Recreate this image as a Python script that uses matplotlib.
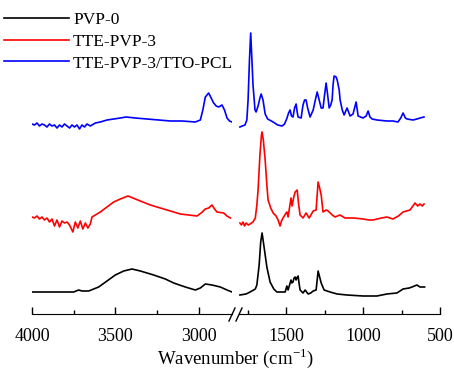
import matplotlib
matplotlib.use("Agg")
import matplotlib.pyplot as plt
from matplotlib.lines import Line2D
from matplotlib.ticker import FixedLocator

plt.rcParams['font.family'] = ['Liberation Serif', 'DejaVu Serif']
plt.rcParams['mathtext.fontset'] = 'custom'
plt.rcParams['mathtext.rm'] = 'Liberation Serif'

labels = ["PVP-0", "TTE-PVP-3", "TTE-PVP-3/TTO-PCL"]
colors = ["black", "red", "blue"]

# ---- PVP-0 (black) ----
k_wn_hi = [4000, 3900, 3800, 3750, 3720, 3700, 3660, 3600, 3550, 3500, 3450, 3400, 3350,
           3310, 3270, 3200, 3150, 3080, 3020, 2990, 2960, 2920, 2870, 2830, 2800]
k_I_hi = [28, 28, 28, 28, 30, 29, 29, 33, 39, 45, 49, 51, 49,
          47, 45, 41, 37, 33, 30, 32, 36, 35, 33, 30, 28]
k_wn_lo = [1800, 1760, 1734, 1700, 1690, 1675, 1665, 1656, 1645, 1625, 1604, 1580, 1560,
           1506, 1495, 1487, 1468, 1462, 1455, 1448, 1441, 1435, 1430, 1422, 1415, 1409,
           1390, 1376, 1357, 1340, 1324, 1305, 1298, 1292, 1282, 1272, 1253, 1214, 1168,
           1104, 1000, 910, 845, 780, 740, 700, 682, 650, 630, 600]
k_I_lo = [25, 26, 28, 31, 35, 55, 78, 87, 75, 53, 38, 31, 28,
          28, 34, 30, 40, 37, 38, 42, 43, 40, 42, 44, 36, 30,
          27, 30, 26, 27, 29, 30, 40, 49, 43, 37, 30, 28, 26,
          25, 24, 24, 26, 27, 31, 32, 33, 35, 33, 33]

# ---- TTE-PVP-3 (red) ----
r_wn_hi = [4000, 3985, 3970, 3955, 3940, 3925, 3910, 3895, 3880, 3865, 3850, 3835, 3820,
           3805, 3790, 3775, 3755, 3740, 3725, 3710, 3695, 3680, 3665, 3650, 3640, 3590,
           3550, 3510, 3470, 3424, 3380, 3335, 3290, 3230, 3170, 3110, 3060, 3010, 2985,
           2960, 2940, 2920, 2905, 2890, 2850, 2830, 2810]
r_I_hi = [103, 102, 104, 101, 103, 100, 102, 98, 101, 94, 100, 93, 99,
          97, 98, 95, 88, 98, 92, 99, 91, 97, 92, 96, 103, 108,
          113, 118, 121, 124, 121, 118, 115, 112, 109, 106, 105, 104, 107,
          111, 112, 115, 111, 108, 107, 104, 102]
r_wn_lo = [1800, 1790, 1780, 1770, 1760, 1745, 1734, 1715, 1700, 1690, 1682, 1670, 1660,
           1656, 1648, 1636, 1625, 1617, 1600, 1584, 1565, 1552, 1539, 1530, 1520, 1500,
           1494, 1487, 1475, 1468, 1461, 1450, 1441, 1428, 1418, 1409, 1390, 1370, 1350,
           1335, 1324, 1305, 1298, 1292, 1282, 1272, 1260, 1240, 1227, 1200, 1182, 1150,
           1117, 1060, 1000, 960, 935, 880, 845, 806, 770, 740, 695, 662, 645, 630, 615, 604]
r_I_lo = [97, 95, 98, 94, 97, 95, 96, 98, 102, 115, 130, 165, 185,
          188, 180, 160, 135, 120, 112, 107, 104, 100, 94, 99, 102, 107,
          108, 103, 115, 122, 114, 123, 128, 130, 115, 105, 102, 107, 102,
          106, 109, 110, 125, 138, 132, 125, 108, 110, 109, 105, 103, 105,
          102, 102, 101, 100, 100, 102, 103, 101, 104, 108, 110, 117, 114, 116, 114, 116]

# ---- TTE-PVP-3/TTO-PCL (blue) ----
b_wn_hi = [4000, 3985, 3970, 3955, 3940, 3925, 3910, 3895, 3880, 3865, 3850, 3835, 3820,
           3805, 3790, 3775, 3760, 3745, 3730, 3715, 3700, 3685, 3670, 3650, 3620, 3590,
           3550, 3510, 3470, 3435, 3380, 3310, 3240, 3170, 3100, 3020, 2990, 2975, 2960,
           2940, 2925, 2910, 2895, 2880, 2860, 2845, 2830, 2815, 2800]
b_I_hi = [196, 195, 197, 194, 196, 195, 193, 196, 194, 195, 192, 195, 193,
          196, 194, 192, 195, 193, 195, 191, 195, 193, 196, 194, 197, 198,
          200, 201, 202, 203, 202, 201, 200, 199, 199, 198, 200, 210, 223,
          227, 222, 217, 214, 213, 215, 210, 202, 199, 198]
b_wn_lo = [1800, 1785, 1767, 1755, 1747, 1738, 1730, 1722, 1715, 1702, 1695, 1682, 1670,
           1662, 1650, 1636, 1620, 1584, 1555, 1526, 1510, 1494, 1484, 1474, 1465, 1455,
           1445, 1435, 1428, 1422, 1402, 1395, 1390, 1380, 1370, 1360, 1344, 1324, 1310,
           1298, 1285, 1272, 1260, 1250, 1240, 1230, 1220, 1210, 1201, 1195, 1188, 1175,
           1168, 1155, 1149, 1135, 1123, 1104, 1084, 1065, 1045, 1032, 1000, 980, 967,
           955, 941, 910, 845, 806, 773, 755, 740, 725, 714, 675, 650, 630, 604]
b_I_lo = [193, 194, 195, 200, 220, 260, 287, 260, 235, 210, 208, 214, 222,
          226, 220, 206, 201, 198, 195, 194, 196, 202, 207, 210, 204, 203,
          212, 216, 208, 203, 202, 210, 215, 220, 220, 212, 203, 210, 220,
          228, 220, 212, 212, 225, 237, 225, 212, 215, 220, 235, 244, 243,
          240, 230, 220, 210, 205, 212, 204, 206, 218, 204, 202, 204, 209,
          203, 201, 200, 199, 199, 198, 202, 207, 202, 201, 200, 201, 202, 203]

hi_data = [(k_wn_hi, k_I_hi), (r_wn_hi, r_I_hi), (b_wn_hi, b_I_hi)]
lo_data = [(k_wn_lo, k_I_lo), (r_wn_lo, r_I_lo), (b_wn_lo, b_I_lo)]

W, H = 454, 371
fig = plt.figure(figsize=(W / 100, H / 100), dpi=100)

bottom = (H - 314) / H
top = (H - 20) / H
axL = fig.add_axes([32 / W, bottom, (232 - 32) / W, top - bottom])
axR = fig.add_axes([239 / W, bottom, (440 - 239) / W, top - bottom])

for ax in (axL, axR):
    for s in ("top", "right", "left"):
        ax.spines[s].set_visible(False)
    ax.set_ylim(6, 300)
    ax.set_yticks([])
    ax.patch.set_alpha(0)
    ax.tick_params(axis='x', which='major', direction='in', length=5, width=1,
                   labelsize=13, pad=10)
    ax.tick_params(axis='x', which='minor', direction='in', length=3, width=1)

lines = []
for (x, y), c, lab in zip(hi_data, colors, labels):
    ln, = axL.plot(x, y, color=c, lw=1.2, label=lab)
    lines.append(ln)
for (x, y), c in zip(lo_data, colors):
    axR.plot(x, y, color=c, lw=1.2)

axL.set_xlim(4000, 2800)
axR.set_xlim(1806, 500)
axL.set_xticks([4000, 3500, 3000])
axL.xaxis.set_minor_locator(FixedLocator([3750, 3250]))
axR.set_xticks([1500, 1000, 500])
axR.xaxis.set_minor_locator(FixedLocator([1750, 1250, 750]))
for lab in axL.get_xticklabels() + axR.get_xticklabels():
    lab.set_clip_on(False)

# break marks
for x0 in (229, 236):
    fig.add_artist(Line2D([x0 / W, (x0 + 6) / W], [(H - 321) / H, (H - 308) / H],
                          color='black', lw=1, transform=fig.transFigure))

fig.text(235 / W, (H - 358) / H, 'Wavenumber (cm$^{-1}$)', ha='center', va='center',
         fontsize=13.5)

fig.legend(handles=lines, labels=labels, loc='upper left',
           bbox_to_anchor=(4 / W, (H - 12) / H), bbox_transform=fig.transFigure,
           frameon=False, fontsize=12.5, handlelength=3.75, handletextpad=0.23,
           labelspacing=0.32, borderpad=0, borderaxespad=0)

fig.savefig("out.png", dpi=100)
